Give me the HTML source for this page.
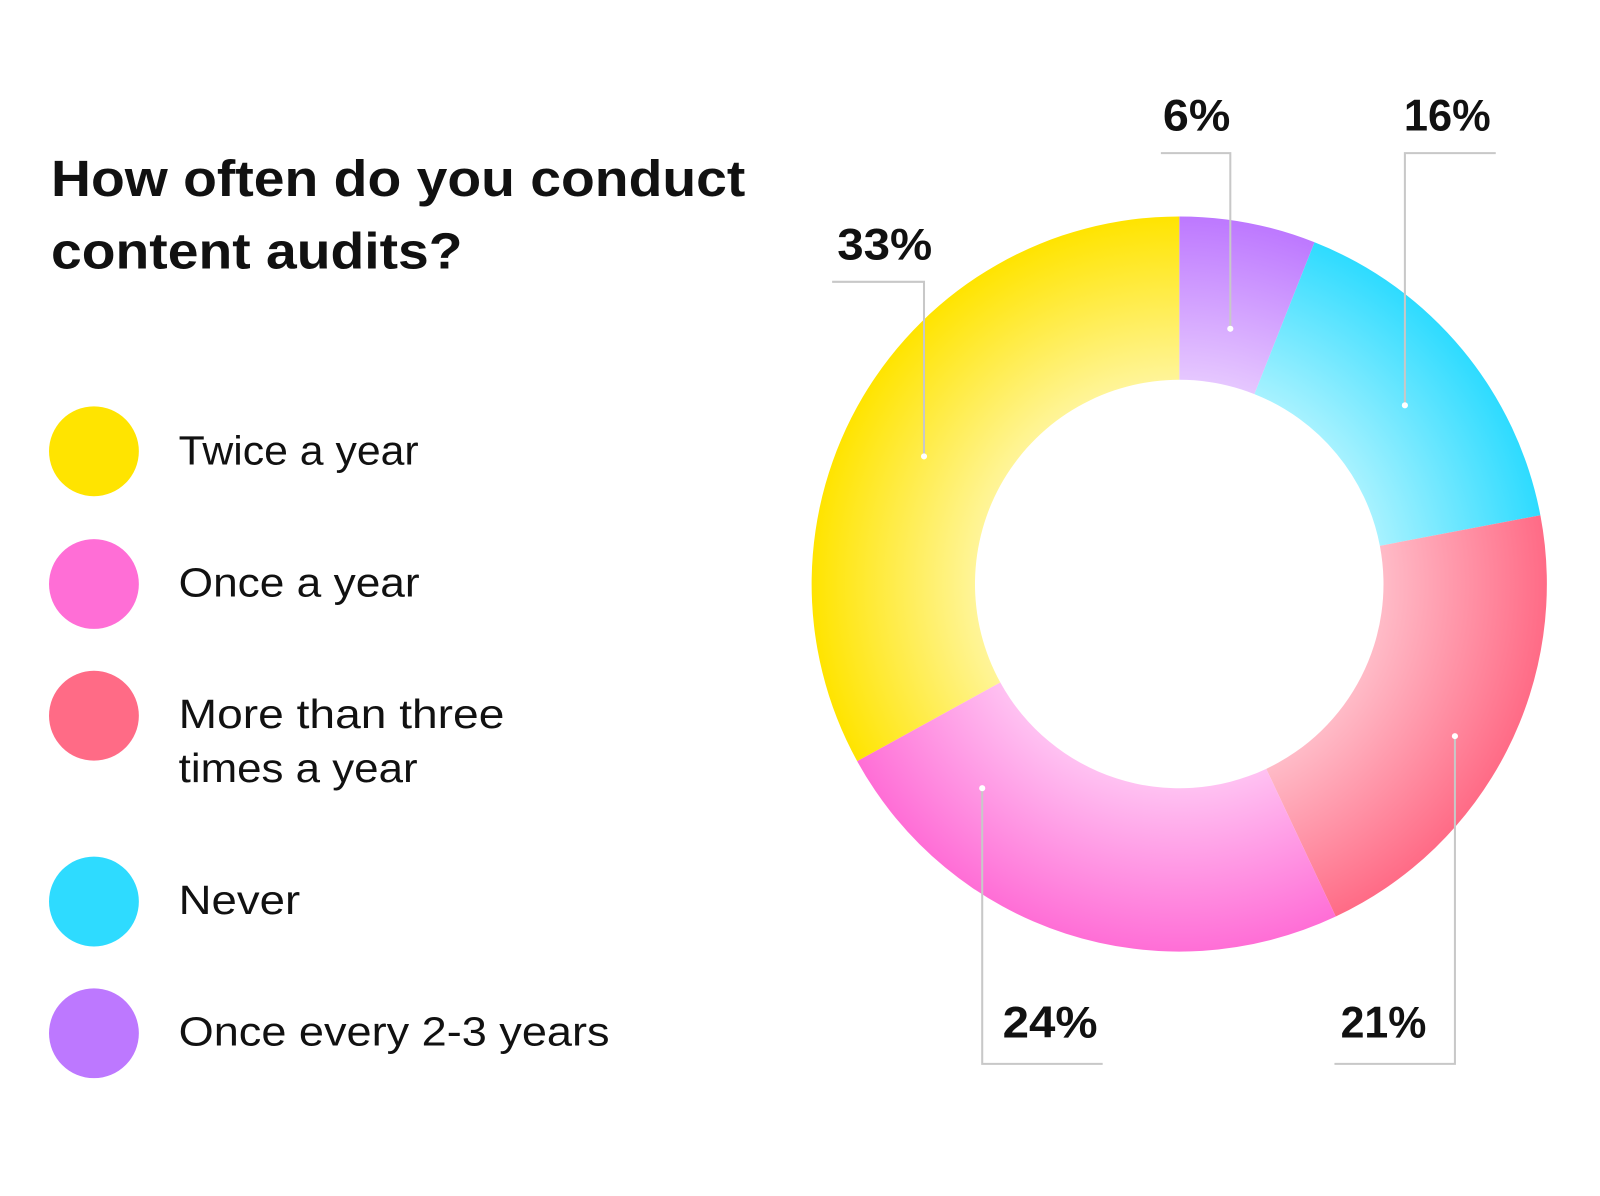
<!DOCTYPE html>
<html><head><meta charset="utf-8"><style>
html,body{margin:0;padding:0;background:#fff;}
body{width:1600px;height:1191px;overflow:hidden;}
</style></head><body>
<svg width="1600" height="1191" viewBox="0 0 1600 1191" xmlns="http://www.w3.org/2000/svg" font-family="Liberation Sans, sans-serif">
<defs>
<radialGradient id="gy" gradientUnits="userSpaceOnUse" cx="1155" cy="572" r="360"><stop offset="0.55" stop-color="#FFF59A"/><stop offset="1" stop-color="#FFE400"/></radialGradient>
<radialGradient id="gp" gradientUnits="userSpaceOnUse" cx="1155" cy="572" r="360"><stop offset="0.55" stop-color="#FFC2F2"/><stop offset="1" stop-color="#FF6ED6"/></radialGradient>
<radialGradient id="gr" gradientUnits="userSpaceOnUse" cx="1155" cy="572" r="360"><stop offset="0.55" stop-color="#FFBCC8"/><stop offset="1" stop-color="#FF6B86"/></radialGradient>
<radialGradient id="gc" gradientUnits="userSpaceOnUse" cx="1155" cy="572" r="360"><stop offset="0.55" stop-color="#A8F2FF"/><stop offset="1" stop-color="#2EDBFF"/></radialGradient>
<radialGradient id="gv" gradientUnits="userSpaceOnUse" cx="1155" cy="572" r="360"><stop offset="0.55" stop-color="#E6C8FF"/><stop offset="1" stop-color="#BD78FF"/></radialGradient>
</defs>
<g transform="scale(1.021)">
<text x="50" y="192" font-size="50" font-weight="bold" fill="#111" textLength="680" lengthAdjust="spacingAndGlyphs">How often do you conduct</text>
<text x="50" y="263" font-size="50" font-weight="bold" fill="#111" textLength="403" lengthAdjust="spacingAndGlyphs">content audits?</text>
<g font-size="40" fill="#111">
<circle cx="92" cy="442" r="44" fill="#FFE400"/><text x="175" y="455" textLength="235" lengthAdjust="spacingAndGlyphs">Twice a year</text>
<circle cx="92" cy="572" r="44" fill="#FF6ED6"/><text x="175" y="584" textLength="236" lengthAdjust="spacingAndGlyphs">Once a year</text>
<circle cx="92" cy="701" r="44" fill="#FF6B86"/><text x="175" y="713" textLength="319" lengthAdjust="spacingAndGlyphs">More than three</text><text x="175" y="766" textLength="234" lengthAdjust="spacingAndGlyphs">times a year</text>
<circle cx="92" cy="883" r="44" fill="#2EDBFF"/><text x="175" y="895" textLength="119" lengthAdjust="spacingAndGlyphs">Never</text>
<circle cx="92" cy="1012" r="44" fill="#BD78FF"/><text x="175" y="1024" textLength="422" lengthAdjust="spacingAndGlyphs">Once every 2-3 years</text>
</g>
<path d="M1155,212 A360,360 0 0 1 1287.5,237.3 L1228.6,386.0 A200,200 0 0 0 1155,372 Z" fill="url(#gv)"/>
<path d="M1287.5,237.3 A360,360 0 0 1 1508.7,504.6 L1351.5,534.6 A200,200 0 0 0 1228.6,386.0 Z" fill="url(#gc)"/>
<path d="M1508.7,504.6 A360,360 0 0 1 1308.3,897.7 L1240.2,753.0 A200,200 0 0 0 1351.5,534.6 Z" fill="url(#gr)"/>
<path d="M1308.3,897.7 A360,360 0 0 1 839.5,745.5 L979.7,668.4 A200,200 0 0 0 1240.2,753.0 Z" fill="url(#gp)"/>
<path d="M839.5,745.5 A360,360 0 0 1 1155,212 L1155,372 A200,200 0 0 0 979.7,668.4 Z" fill="url(#gy)"/>
<g stroke="#c8c8c8" stroke-width="2" fill="none">
<polyline points="815,276 905,276 905,447"/>
<polyline points="1137,150 1205,150 1205,322"/>
<polyline points="1465,150 1376,150 1376,397"/>
<polyline points="962,772 962,1042 1080,1042"/>
<polyline points="1425,721 1425,1042 1307,1042"/>
</g>
<g fill="#fff"><circle cx="905" cy="447" r="3"/><circle cx="1205" cy="322" r="3"/><circle cx="1376" cy="397" r="3"/><circle cx="962" cy="772" r="3"/><circle cx="1425" cy="721" r="3"/></g>
<g font-size="44" font-weight="bold" fill="#111">
<text x="820" y="254" textLength="93" lengthAdjust="spacingAndGlyphs">33%</text>
<text x="1139" y="128" textLength="66" lengthAdjust="spacingAndGlyphs">6%</text>
<text x="1375" y="128" textLength="85" lengthAdjust="spacingAndGlyphs">16%</text>
<text x="982" y="1016" textLength="93" lengthAdjust="spacingAndGlyphs">24%</text>
<text x="1313" y="1016" textLength="84" lengthAdjust="spacingAndGlyphs">21%</text>
</g>
</g>
</svg>
</body></html>
